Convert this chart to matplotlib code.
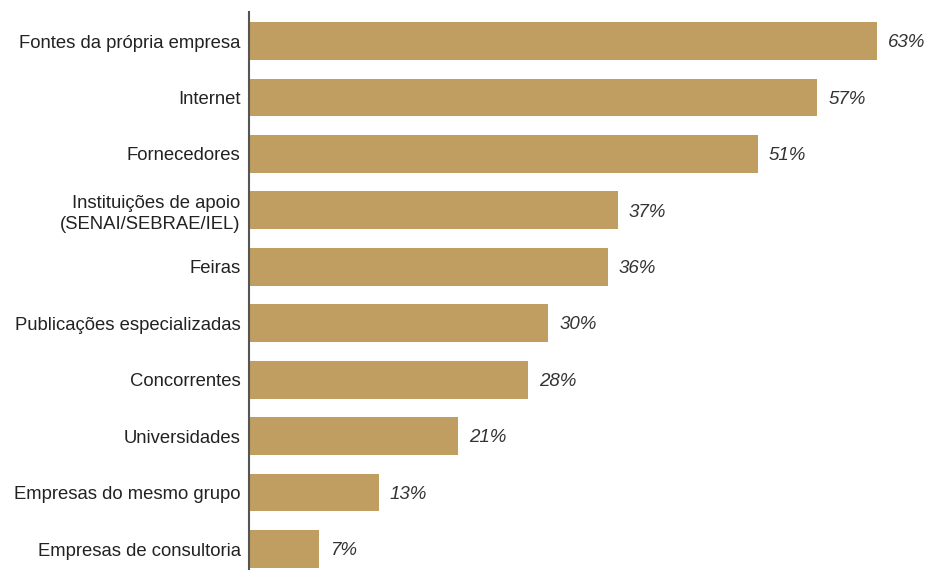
import matplotlib.pyplot as plt

plt.rcParams['font.family'] = ['Liberation Sans', 'DejaVu Sans']

# Fontes de informação utilizadas (% das empresas)
categorias = [
    'Fontes da própria empresa',
    'Internet',
    'Fornecedores',
    'Instituições de apoio\n(SENAI/SEBRAE/IEL)',
    'Feiras',
    'Publicações especializadas',
    'Concorrentes',
    'Universidades',
    'Empresas do mesmo grupo',
    'Empresas de consultoria',
]
valores = [63, 57, 51, 37, 36, 30, 28, 21, 13, 7]

fig = plt.figure(figsize=(9.27, 5.70), dpi=100)
ax = fig.add_axes([249 / 927, 0.0, 1 - 249 / 927, 1 - 12 / 570])

pos = list(range(len(categorias)))
ax.barh(pos, valores, height=0.67, color='#C09E62', edgecolor='none')

for y, v in zip(pos, valores):
    ax.text(v + 1.1, y + 0.03, f'{v}%', va='center', ha='left',
            fontsize=13.5, style='italic', color='#333333')

ax.set_yticks(pos)
ax.set_yticklabels(categorias, fontsize=13.3, color='#222222',
                   linespacing=1.25)
ax.tick_params(axis='y', length=0, pad=6)
ax.set_xticks([])
ax.set_xlim(0, 68)
ax.set_ylim(9.372, -0.514)

for side in ['top', 'right', 'bottom']:
    ax.spines[side].set_visible(False)
ax.spines['left'].set_color('#555555')
ax.spines['left'].set_linewidth(1.5)

fig.savefig('out.png', dpi=100)
